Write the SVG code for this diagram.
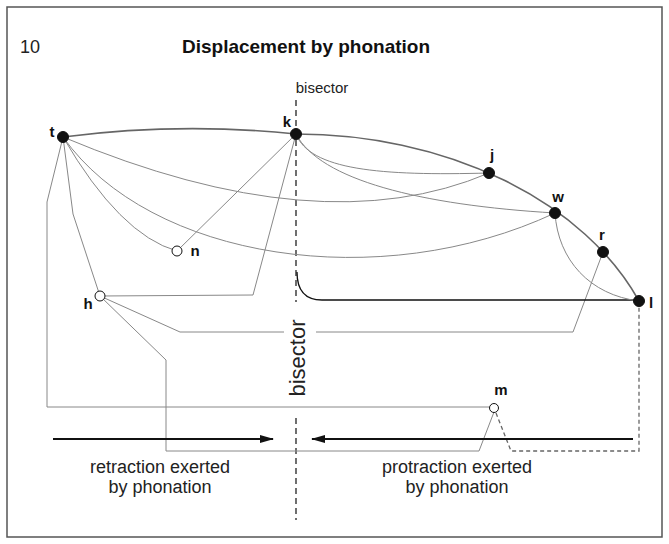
<svg xmlns="http://www.w3.org/2000/svg" width="669" height="544" viewBox="0 0 669 544">
<defs>
<style>
.frame{fill:#fff;stroke:#555;stroke-width:1.5}
.arc{fill:none;stroke:#666;stroke-width:1.6}
.ln{fill:none;stroke:#888;stroke-width:1}
.blk{fill:none;stroke:#111;stroke-width:1.3}
.dash{fill:none;stroke:#666;stroke-width:1.3;stroke-dasharray:4 3}
.bis{fill:none;stroke:#222;stroke-width:1.3;stroke-dasharray:6 4}
.arr{fill:none;stroke:#111;stroke-width:2}
.dot{fill:#111;stroke:#111;stroke-width:1}
.open{fill:#fff;stroke:#111;stroke-width:1}
.lbl{font-family:"Liberation Sans",Arial,sans-serif;font-weight:bold;font-size:15px;fill:#111;text-anchor:middle}
.txt{font-family:"Liberation Sans",Arial,sans-serif;font-size:18px;fill:#222;text-anchor:middle}
.title{font-family:"Liberation Sans",Arial,sans-serif;font-weight:bold;font-size:19px;fill:#111;text-anchor:middle}
</style>
<marker id="ah" viewBox="0 0 14 8" refX="13" refY="4" markerWidth="14" markerHeight="8" markerUnits="userSpaceOnUse" orient="auto">
<path d="M0,0 L14,4 L0,8 Z" fill="#111"/>
</marker>
</defs>
<rect class="frame" x="7" y="7" width="655" height="530"/>
<text x="20" y="53" style="font-family:'Liberation Sans',Arial,sans-serif;font-size:18px;fill:#222">10</text>
<text class="title" x="306" y="53">Displacement by phonation</text>
<text class="txt" x="322" y="93" style="font-size:15px">bisector</text>
<text class="txt" x="0" y="0" style="font-size:22px" transform="translate(305,358) rotate(-90)">bisector</text>

<g id="connectors">
<path class="bis" d="M296,100 V302"/>
<path class="bis" d="M296,418 V520"/>
<path class="arc" d="M63,137 Q180,122 296,134"/>
<path class="arc" d="M296,134 A369.7,265.2 0 0 1 639,301"/>
<path class="ln" d="M63,137 Q320,245 489,173"/>
<path class="ln" d="M63,137 C150,260 380,295 555,213"/>
<path class="ln" d="M63,137 Q120,235 177,251"/>
<path class="ln" d="M296,134 L177,251"/>
<path class="ln" d="M63,137 L73,214 L100,296"/>
<path class="ln" d="M63,137 L47,202 L47,407 L490,407"/>
<path class="ln" d="M100,296 L253,295 L296,134"/>
<path class="ln" d="M100,296 L180,332 L284,332 M316,332 L573,332 L603,252"/>
<path class="ln" d="M100,296 L166,360 L166,451 L479,451 L494,412"/>
<path class="dash" d="M496,413 L511,451 L639,451 L639,306"/>
<path class="blk" d="M297,272 Q297,300 322,300 L639,300"/>
<path class="ln" d="M296,134 C310,170 380,176 489,173"/>
<path class="ln" d="M296,134 C320,180 420,205 555,213"/>
<path class="ln" d="M555,213 C558,260 590,295 639,301"/>
<path class="arr" d="M53,439 L273,439" marker-end="url(#ah)"/>
<path class="arr" d="M633,439 L312,439" marker-end="url(#ah)"/>
</g>

<g id="node-t"><circle class="dot" cx="63" cy="137" r="5.5"/><text class="lbl" x="52" y="137">t</text></g>
<g id="node-k"><circle class="dot" cx="296" cy="134" r="5.5"/><text class="lbl" x="287" y="127">k</text></g>
<g id="node-j"><circle class="dot" cx="489" cy="173" r="5.5"/><text class="lbl" x="492" y="160">j</text></g>
<g id="node-w"><circle class="dot" cx="555" cy="213" r="5.5"/><text class="lbl" x="558" y="202">w</text></g>
<g id="node-r"><circle class="dot" cx="603" cy="252" r="5.5"/><text class="lbl" x="602" y="240">r</text></g>
<g id="node-l"><circle class="dot" cx="639" cy="301" r="5.5"/><text class="lbl" x="651" y="308">l</text></g>
<g id="node-n"><circle class="open" cx="177" cy="251" r="5"/><text class="lbl" x="195" y="256">n</text></g>
<g id="node-h"><circle class="open" cx="100" cy="296" r="5"/><text class="lbl" x="88" y="309">h</text></g>
<g id="node-m"><circle class="open" cx="494" cy="408" r="4.5"/><text class="lbl" x="501" y="395">m</text></g>

<g id="captions">
<text class="txt" x="160" y="473">retraction exerted</text>
<text class="txt" x="160" y="493">by phonation</text>
<text class="txt" x="457" y="473">protraction exerted</text>
<text class="txt" x="457" y="493">by phonation</text>
</g>
</svg>
